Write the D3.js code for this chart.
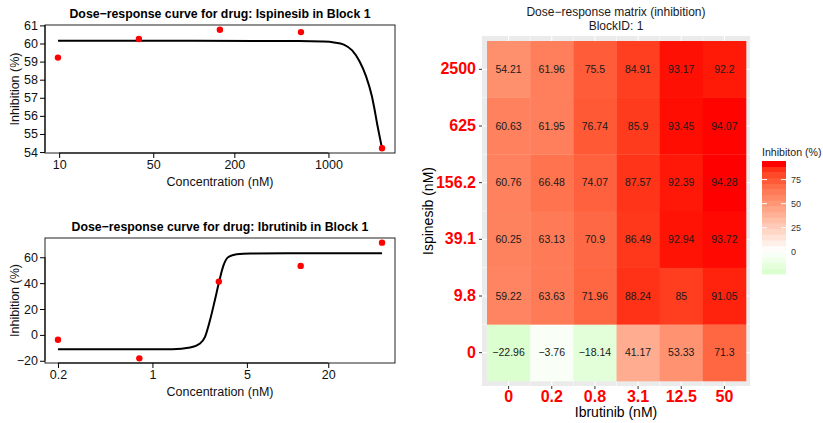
<!DOCTYPE html>
<html>
<head>
<meta charset="utf-8">
<script src="https://cdn.jsdelivr.net/npm/d3@7"></script>
<style>
  body { margin: 0; background: #fff; }
  svg { display: block; font-family: "Liberation Sans", Arial, Helvetica, sans-serif; }
</style>
</head>
<body>
<svg id="chart" width="823" height="423"></svg>
<script>
// ---- Drug doses (nM) ----
const ibrutinibDoses = ["0", "0.2", "0.8", "3.1", "12.5", "50"];
const ispinesibDoses = ["0", "9.8", "39.1", "156.2", "625", "2500"];

// ---- Inhibition (%) per Ispinesib dose, across Ibrutinib doses ----
const inhIsp0    = [-22.96, -3.76, -18.14, 41.17, 53.33, 71.3];
const inhIsp9_8  = [59.22, 63.63, 71.96, 88.24, 85, 91.05];
const inhIsp39_1 = [60.25, 63.13, 70.9, 86.49, 92.94, 93.72];
const inhIsp156  = [60.76, 66.48, 74.07, 87.57, 92.39, 94.28];
const inhIsp625  = [60.63, 61.95, 76.74, 85.9, 93.45, 94.07];
const inhIsp2500 = [54.21, 61.96, 75.5, 84.91, 93.17, 92.2];
const inhibition = [inhIsp0, inhIsp9_8, inhIsp39_1, inhIsp156, inhIsp625, inhIsp2500];

// ---- Single-drug responses (taken from the matrix edges) ----
const ispSingleConc = [9.8, 39.1, 156.2, 625, 2500];
const ispSingleResp = inhibition.slice(1).map(r => r[0]);
const ibrSingleConc = [0.2, 0.8, 3.1, 12.5, 50];
const ibrSingleResp = inhIsp0.slice(1);

// ---- Fitted dose-response curves ----
const ispCurveConc = [9.8, 100, 600, 900, 1100, 1300, 1500, 1700, 1900, 2100, 2200, 2300, 2400, 2500];
const ispCurveResp = [60.15, 60.15, 60.14, 60.11, 60.06, 59.94, 59.62, 59.02, 58.2, 57.1, 56.35, 55.55, 54.85, 54.21];
const ibrCurveConc = [0.2, 1, 1.4, 1.9, 2.25, 2.45, 2.67, 2.9, 3.13, 3.35, 3.65, 4.2, 5.3, 10, 50];
const ibrCurveResp = [-11.1, -11.1, -11.0, -9.7, -6.6, -1.5, 11.5, 27.0, 42.0, 53.5, 60.2, 62.4, 62.9, 63.0, 63.0];

// ---- Axis ticks ----
const ispXTicks = [10, 50, 200, 1000];
const ispYTicks = [54, 55, 56, 57, 58, 59, 60, 61];
const ibrXTicks = [0.2, 1, 5, 20];
const ibrYTicks = [-20, 0, 20, 40, 60];
const legendTicks = [0, 25, 50, 75];

const svg = d3.select("#chart");
const minus = s => String(s).replace("-", "\u2212");

// Base-graphics style dose-response panel
function curvePanel(opts) {
  const { top, bottom, title, conc, resp, cConc, cResp, xTicks, yTicks } = opts;
  const left = 45, right = 395;
  const lx = d3.extent(conc.map(Math.log10));
  const px = (lx[1] - lx[0]) * 0.04;
  const yAll = resp.concat(cResp);
  const ly = d3.extent(yAll);
  const py = (ly[1] - ly[0]) * 0.04;
  const x = d3.scaleLog().domain([Math.pow(10, lx[0] - px), Math.pow(10, lx[1] + px)]).range([left, right]);
  const y = d3.scaleLinear().domain([ly[0] - py, ly[1] + py]).range([bottom, top]);
  const g = svg.append("g");

  g.append("text").attr("x", (left + right) / 2).attr("y", top - 7)
    .attr("text-anchor", "middle").attr("font-weight", "bold").attr("font-size", 12.3)
    .attr("fill", "#000").text(title);

  // fitted curve
  const line = d3.line().x(d => x(d[0])).y(d => y(d[1])).curve(d3.curveMonotoneX);
  g.append("path").datum(cConc.map((c, i) => [c, cResp[i]]))
    .attr("d", line).attr("fill", "none").attr("stroke", "#000").attr("stroke-width", 2);

  // observed points
  g.selectAll("circle.pt").data(conc.map((c, i) => [c, resp[i]])).join("circle")
    .attr("class", "pt").attr("cx", d => x(d[0])).attr("cy", d => y(d[1]))
    .attr("r", 3.2).attr("fill", "#ff0000");

  // box
  g.append("rect").attr("x", left).attr("y", top).attr("width", right - left).attr("height", bottom - top)
    .attr("fill", "none").attr("stroke", "#222").attr("stroke-width", 1);

  // x axis
  const xa = g.append("g").attr("transform", `translate(0,${bottom})`)
    .call(d3.axisBottom(x).tickValues(xTicks).tickFormat(d => String(d)).tickSize(5).tickPadding(2));
  xa.select(".domain").attr("d", `M${x(xTicks[0])},0H${x(xTicks[xTicks.length - 1])}`).attr("stroke", "#000");
  xa.selectAll("text").attr("font-size", 12.5).attr("fill", "#111");
  xa.attr("font-family", null);

  // y axis
  const ya = g.append("g").attr("transform", `translate(${left},0)`)
    .call(d3.axisLeft(y).tickValues(yTicks).tickFormat(d => minus(d)).tickSize(5).tickPadding(2));
  ya.select(".domain").attr("d", `M0,${y(yTicks[0])}V${y(yTicks[yTicks.length - 1])}`).attr("stroke", "#000");
  ya.selectAll("text").attr("font-size", 12.5).attr("fill", "#111");
  ya.attr("font-family", null);

  g.append("text").attr("x", (left + right) / 2).attr("y", bottom + 33)
    .attr("text-anchor", "middle").attr("font-size", 12.5).attr("fill", "#111").text("Concentration (nM)");
  g.append("text").attr("transform", `translate(19,${(top + bottom) / 2}) rotate(-90)`)
    .attr("text-anchor", "middle").attr("font-size", 12.5).attr("fill", "#111").text("Inhibition (%)");
}

curvePanel({
  top: 25, bottom: 153,
  title: "Dose\u2212response curve for drug: Ispinesib in Block 1",
  conc: ispSingleConc, resp: ispSingleResp, cConc: ispCurveConc, cResp: ispCurveResp,
  xTicks: ispXTicks, yTicks: ispYTicks
});
curvePanel({
  top: 238, bottom: 363,
  title: "Dose\u2212response curve for drug: Ibrutinib in Block 1",
  conc: ibrSingleConc, resp: ibrSingleResp, cConc: ibrCurveConc, cResp: ibrCurveResp,
  xTicks: ibrXTicks, yTicks: ibrYTicks
});

// ---- Dose-response matrix heatmap ----
const panel = { x0: 482, x1: 750, y0: 36, y1: 386 };
const hx = d3.scaleBand().domain(ibrutinibDoses).range([487, 746]);
const hy = d3.scaleBand().domain(ispinesibDoses.slice().reverse()).range([41, 381]);

const allVals = inhibition.flat();
const vMin = d3.min(allVals), vMax = d3.max(allVals);
const extent = Math.max(Math.abs(vMin), Math.abs(vMax));
const toRed = d3.interpolateLab("#ffffff", "#ff0000");
const toGreen = d3.interpolateLab("#ffffff", "#00ff00");
const fill = v => v >= 0 ? toRed(v / extent) : toGreen(-v / extent);

const hm = svg.append("g");
hm.append("rect").attr("x", panel.x0).attr("y", panel.y0)
  .attr("width", panel.x1 - panel.x0).attr("height", panel.y1 - panel.y0).attr("fill", "#ebebeb");

// grid lines
const bw = hx.bandwidth(), bh = hy.bandwidth();
ibrutinibDoses.forEach((d, i) => {
  const cx = hx(d) + bw / 2;
  hm.append("line").attr("x1", cx).attr("x2", cx).attr("y1", panel.y0).attr("y2", panel.y1)
    .attr("stroke", "#fff").attr("stroke-width", 1.1);
  if (i > 0) hm.append("line").attr("x1", hx(d)).attr("x2", hx(d)).attr("y1", panel.y0).attr("y2", panel.y1)
    .attr("stroke", "#fff").attr("stroke-width", 0.55);
});
ispinesibDoses.forEach((d, i) => {
  const cy = hy(d) + bh / 2;
  hm.append("line").attr("y1", cy).attr("y2", cy).attr("x1", panel.x0).attr("x2", panel.x1)
    .attr("stroke", "#fff").attr("stroke-width", 1.1);
  if (i > 0) hm.append("line").attr("y1", hy(d) + bh).attr("y2", hy(d) + bh).attr("x1", panel.x0).attr("x2", panel.x1)
    .attr("stroke", "#fff").attr("stroke-width", 0.55);
});

const cells = [];
ispinesibDoses.forEach((isp, r) => ibrutinibDoses.forEach((ibr, c) => cells.push({ isp, ibr, v: inhibition[r][c] })));

hm.selectAll("rect.tile").data(cells).join("rect").attr("class", "tile")
  .attr("x", d => hx(d.ibr)).attr("y", d => hy(d.isp))
  .attr("width", bw + 0.3).attr("height", bh + 0.3)
  .attr("fill", d => fill(d.v));

hm.selectAll("text.val").data(cells).join("text").attr("class", "val")
  .attr("x", d => hx(d.ibr) + bw / 2).attr("y", d => hy(d.isp) + bh / 2)
  .attr("dy", "0.35em").attr("text-anchor", "middle").attr("font-size", 10.5).attr("fill", "#1a1a1a")
  .text(d => minus(d.v));

// axes
const hxa = hm.append("g").attr("transform", `translate(0,${panel.y1})`)
  .call(d3.axisBottom(hx).tickSize(3).tickPadding(2));
hxa.select(".domain").remove();
hxa.selectAll("line").attr("stroke", "#333");
hxa.selectAll("text").attr("font-size", 16).attr("font-weight", "bold").attr("fill", "#ff0000");
hxa.attr("font-family", null);

const hya = hm.append("g").attr("transform", `translate(${panel.x0},0)`)
  .call(d3.axisLeft(hy).tickSize(3).tickPadding(3));
hya.select(".domain").remove();
hya.selectAll("line").attr("stroke", "#333");
hya.selectAll("text").attr("font-size", 16).attr("font-weight", "bold").attr("fill", "#ff0000");
hya.attr("font-family", null);

hm.append("text").attr("x", (panel.x0 + panel.x1) / 2).attr("y", 417)
  .attr("text-anchor", "middle").attr("font-size", 14).attr("fill", "#000").text("Ibrutinib (nM)");
hm.append("text").attr("transform", `translate(433,${(panel.y0 + panel.y1) / 2}) rotate(-90)`)
  .attr("text-anchor", "middle").attr("font-size", 14).attr("fill", "#000").text("Ispinesib (nM)");

hm.append("text").attr("x", (panel.x0 + panel.x1) / 2).attr("y", 16)
  .attr("text-anchor", "middle").attr("font-size", 12).attr("fill", "#1a1a1a").text("Dose\u2212response matrix (inhibition)");
hm.append("text").attr("x", (panel.x0 + panel.x1) / 2).attr("y", 30)
  .attr("text-anchor", "middle").attr("font-size", 12).attr("fill", "#1a1a1a").text("BlockID: 1");

// ---- Colour bar legend ----
const lg = svg.append("g");
const bar = { x: 762, w: 24, y0: 161, y1: 274 };
const ly = d3.scaleLinear().domain([vMin, vMax]).range([bar.y1, bar.y0]);
const nbin = 20;
const binVals = d3.range(nbin).map(i => vMin + (vMax - vMin) * i / (nbin - 1));
const binH = (bar.y1 - bar.y0) / nbin;
lg.selectAll("rect.bin").data(binVals).join("rect").attr("class", "bin")
  .attr("x", bar.x).attr("width", bar.w)
  .attr("y", (d, i) => bar.y1 - (i + 1) * binH).attr("height", binH + 0.4)
  .attr("fill", d => fill(d));
legendTicks.forEach(t => {
  const yy = ly(t);
  lg.append("line").attr("x1", bar.x).attr("x2", bar.x + 5).attr("y1", yy).attr("y2", yy).attr("stroke", "#fff");
  lg.append("line").attr("x1", bar.x + bar.w - 5).attr("x2", bar.x + bar.w).attr("y1", yy).attr("y2", yy).attr("stroke", "#fff");
  lg.append("text").attr("x", bar.x + bar.w + 5).attr("y", yy).attr("dy", "0.35em")
    .attr("font-size", 9).attr("fill", "#333").text(t);
});
lg.append("text").attr("x", 762).attr("y", 156).attr("font-size", 10.6).attr("fill", "#1a1a1a").text("Inhibiton (%)");
</script>
</body>
</html>
